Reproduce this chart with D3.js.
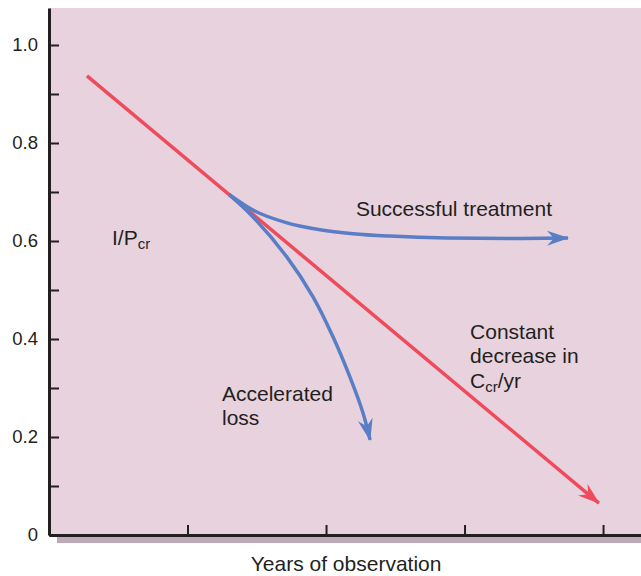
<!DOCTYPE html>
<html><head><meta charset="utf-8">
<script src="https://cdn.jsdelivr.net/npm/d3@7"></script>
<style>
html,body{margin:0;padding:0;background:#fff;}
svg{display:block;font-family:"Liberation Sans",Arial,Helvetica,sans-serif;}
</style></head>
<body>
<svg id="chart" width="641" height="576"></svg>
<script>
// ---- data (x in years, y in 1/Pcr) ----
const yMajorTicks = [0, 0.2, 0.4, 0.6, 0.8, 1.0];
const yMinorTicks = [0.1, 0.3, 0.5, 0.7, 0.9];
const yTickLabels = ["0", "0.2", "0.4", "0.6", "0.8", "1.0"];
const xTicks = [1, 2, 3, 4];
const constantX = [0.274, 3.97];
const constantY = [0.937, 0.065];
const successX = [1.30, 1.473, 1.718, 1.957, 2.195, 2.462, 2.874, 3.350, 3.747];
const successY = [0.695, 0.663, 0.637, 0.623, 0.615, 0.610, 0.606, 0.605, 0.606];
const accelX = [1.30, 1.473, 1.718, 1.906, 2.051, 2.173, 2.267, 2.318];
const accelY = [0.695, 0.649, 0.567, 0.486, 0.404, 0.322, 0.249, 0.194];
const xTitle = "Years of observation";

const W = 641, H = 576;
const x = d3.scaleLinear().domain([0, 4.274]).range([49, 641]);
const y = d3.scaleLinear().domain([0, 1.0755]).range([535, 8]);

const svg = d3.select("#chart");
const ink = "#231f20";
const fs = 21;

// plot background
svg.append("rect").attr("x", x(0)).attr("y", y(1.0755))
  .attr("width", x(4.274) - x(0)).attr("height", y(0) - y(1.0755))
  .attr("fill", "#e7d2dd");
// shadow under x-axis
svg.append("rect").attr("x", x(0) + 8).attr("y", y(0) + 2)
  .attr("width", x(4.274) - x(0) - 8).attr("height", 6)
  .attr("fill", "#bcaab9");

// arrow markers
const defs = svg.append("defs");
function marker(id, color){
  defs.append("marker").attr("id", id)
    .attr("viewBox", "-24 -9 26 18").attr("refX", 0).attr("refY", 0)
    .attr("markerWidth", 26).attr("markerHeight", 18)
    .attr("markerUnits", "userSpaceOnUse").attr("orient", "auto")
    .append("path").attr("d", "M1,0 L-21,-7.5 L-14,0 L-21,7.5 Z").attr("fill", color);
}
marker("arRed", "#ee4b5d");
marker("arBlue", "#5a7ec6");

// y axis
const yAxis = d3.axisLeft(y).tickValues(yMajorTicks)
  .tickFormat((d, i) => yTickLabels[i]).tickSize(-10).tickSizeOuter(0).tickPadding(11);
const gy = svg.append("g").attr("transform", `translate(${x(0)},0)`).call(yAxis);
gy.select(".domain").attr("stroke", ink).attr("stroke-width", 3);
gy.selectAll(".tick line").attr("stroke", ink).attr("stroke-width", 2);
gy.selectAll(".tick text").attr("fill", ink).attr("font-size", 18.5)
  .attr("font-family", "Liberation Sans, Arial, sans-serif");
const yMinor = d3.axisLeft(y).tickValues(yMinorTicks).tickFormat("").tickSize(-10).tickSizeOuter(0);
const gy2 = svg.append("g").attr("transform", `translate(${x(0)},0)`).call(yMinor);
gy2.select(".domain").remove();
gy2.selectAll(".tick line").attr("stroke", ink).attr("stroke-width", 2);

// x axis
const xAxis = d3.axisBottom(x).tickValues(xTicks).tickFormat("").tickSize(-10).tickSizeOuter(0);
const gx = svg.append("g").attr("transform", `translate(0,${y(0)})`).call(xAxis);
gx.select(".domain").attr("stroke", ink).attr("stroke-width", 3);
gx.selectAll(".tick line").attr("stroke", ink).attr("stroke-width", 2);

svg.append("text").attr("x", x(2.145)).attr("y", 571).attr("text-anchor", "middle")
  .attr("font-size", fs).attr("fill", ink).text(xTitle);

// lines
const line = d3.line().x(d => x(d[0])).y(d => y(d[1]));
const curveS = d3.line().x(d => x(d[0])).y(d => y(d[1])).curve(d3.curveMonotoneX);
const curveA = d3.line().x(d => x(d[0])).y(d => y(d[1])).curve(d3.curveCatmullRom.alpha(0.5));

svg.append("path").datum(constantX.map((v, i) => [v, constantY[i]]))
  .attr("d", line).attr("fill", "none").attr("stroke", "#ee4b5d").attr("stroke-width", 3.5)
  .attr("marker-end", "url(#arRed)");
svg.append("path").datum(successX.map((v, i) => [v, successY[i]]))
  .attr("d", curveS).attr("fill", "none").attr("stroke", "#5a7ec6").attr("stroke-width", 3.5)
  .attr("marker-end", "url(#arBlue)");
svg.append("path").datum(accelX.map((v, i) => [v, accelY[i]]))
  .attr("d", curveA).attr("fill", "none").attr("stroke", "#5a7ec6").attr("stroke-width", 3.5)
  .attr("marker-end", "url(#arBlue)");

// annotations
function label(tx, ty, parts){
  const t = svg.append("text").attr("x", x(tx)).attr("y", y(ty))
    .attr("font-size", fs).attr("fill", ink);
  parts.forEach(p => {
    const s = t.append("tspan").text(p[0]);
    if (p[1] === "sub") s.attr("font-size", 15).attr("dy", 4);
    if (p[1] === "up") s.attr("dy", -4);
  });
}
label(2.216, 0.651, [["Successful treatment"]]);
label(0.455, 0.592, [["I/P"], ["cr", "sub"]]);
label(3.040, 0.400, [["Constant"]]);
label(3.040, 0.351, [["decrease in"]]);
label(3.040, 0.300, [["C"], ["cr", "sub"], ["/yr", "up"]]);
label(1.249, 0.273, [["Accelerated"]]);
label(1.249, 0.224, [["loss"]]);
</script>
</body></html>
